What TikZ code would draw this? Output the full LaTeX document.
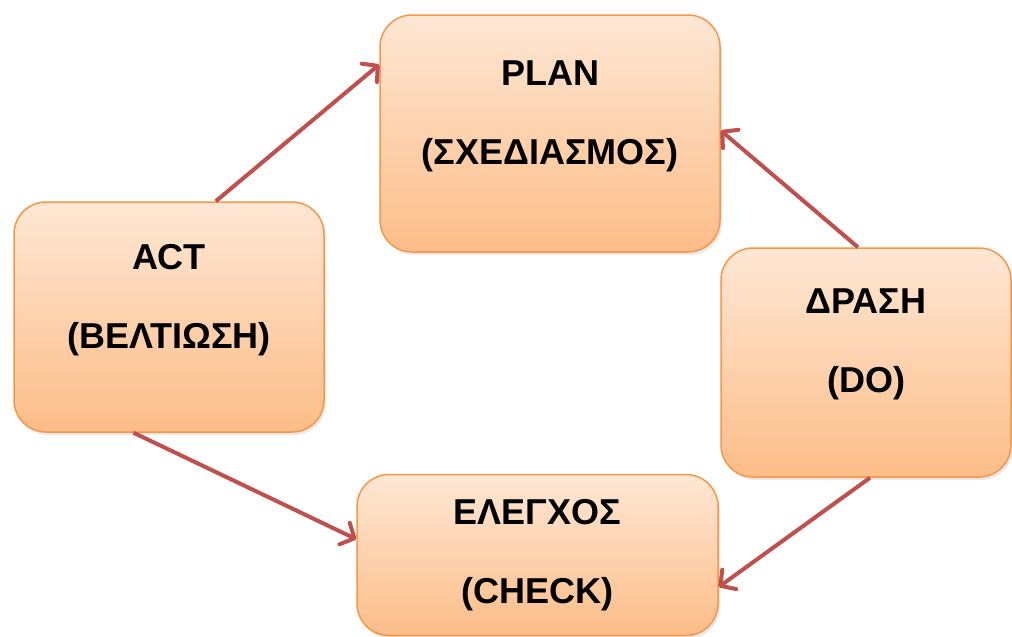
\documentclass[tikz,border=0pt]{standalone}
\usepackage{fontspec}
\setmainfont{Liberation Sans}
\usetikzlibrary{arrows.meta,shadows}
\definecolor{boxline}{HTML}{F79646}
\definecolor{boxtop}{HTML}{FEE7D4}
\definecolor{boxbottom}{HTML}{FCBD88}
\definecolor{arrowred}{HTML}{C0504D}
\tikzset{
	stage/.style={draw=boxline, line width=1.5pt, rounded corners=32pt,
		top color=boxtop, bottom color=boxbottom, inner sep=0pt,
		drop shadow={shadow xshift=2pt, shadow yshift=-3pt, opacity=.18}},
	pdcaarrow/.style={draw=arrowred, line width=4pt,
		-{Straight Barb[length=11pt,width=24pt,round]}}
}
\begin{document}
\begin{tikzpicture}[x=1pt,y=-1pt,
	every label/.style={align=center, text=black,
		font=\bfseries\fontsize{36}{79}\selectfont}]
	\useasboundingbox (0,0) rectangle (1012,637);
	% the four stages
	\node[stage, minimum width=340pt, minimum height=237pt,
		label={[yshift=17pt]center:PLAN\\(ΣΧΕΔΙΑΣΜΟΣ)}] (plan) at (550,133.5) {};
	\node[stage, minimum width=310pt, minimum height=230pt,
		label={[yshift=17pt]center:ACT\\(ΒΕΛΤΙΩΣΗ)}] (act) at (169,317) {};
	\node[stage, minimum width=290pt, minimum height=229pt,
		label={[yshift=18pt]center:ΔΡΑΣΗ\\(DO)}] (drasi) at (866,362.5) {};
	\node[stage, minimum width=361pt, minimum height=161pt,
		label={center:ΕΛΕΓΧΟΣ\\(CHECK)}] (elegxos) at (537.5,555) {};
	% arrows
	\draw[pdcaarrow] (act.68) -- (plan.158.3);
	\draw[pdcaarrow] (drasi.94.5) -- (plan.1.2);
	\draw[pdcaarrow] (act.-107.7) -- (elegxos.175.9);
	\draw[pdcaarrow] (drasi.-88) -- (elegxos.-10.9);
\end{tikzpicture}
\end{document}
